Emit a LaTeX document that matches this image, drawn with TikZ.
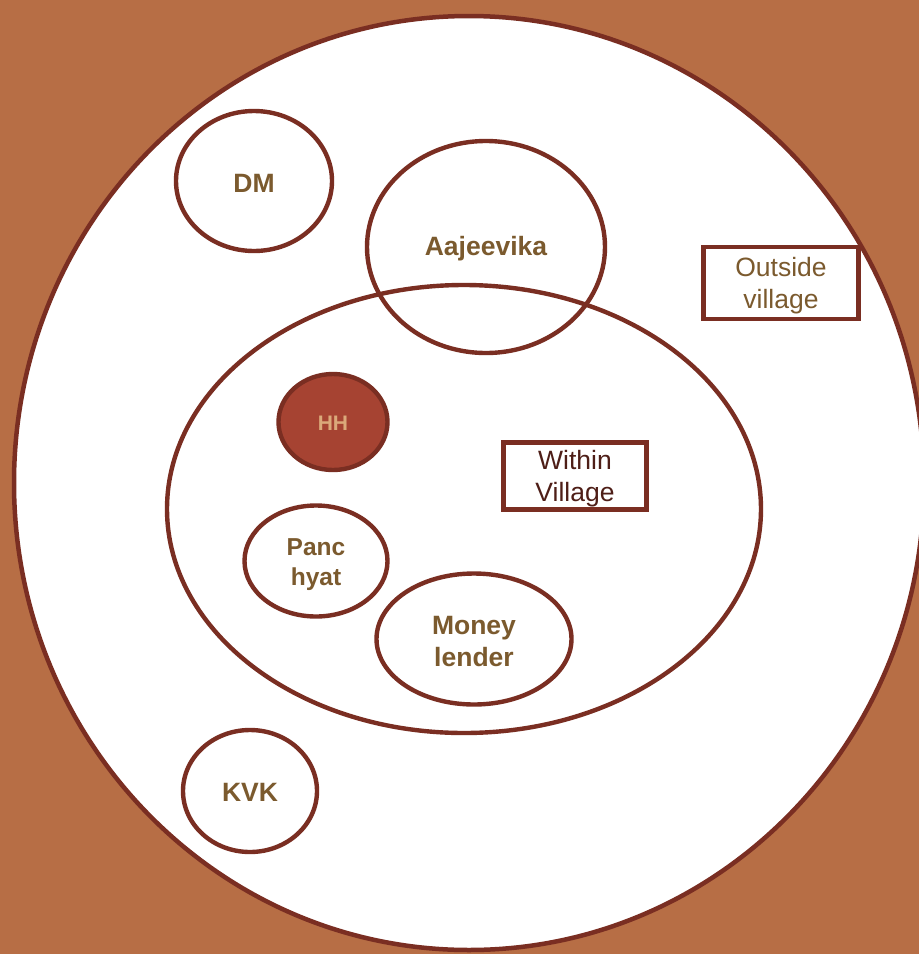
\documentclass[tikz,border=0pt]{standalone}
\usepackage{fontspec}
\setmainfont{Liberation Sans}
\usetikzlibrary{shapes.geometric}
\definecolor{bgbrown}{HTML}{B76E45}
\definecolor{edge}{HTML}{7A2E22}
\definecolor{lbl}{HTML}{7B5A2E}
\definecolor{hhfill}{HTML}{A64332}
\definecolor{hhtext}{HTML}{DBA97A}
\definecolor{wvtext}{HTML}{4E1E17}
\tikzset{
  blob/.style={ellipse, draw=edge, line width=4.4pt, inner sep=0pt},
  boldtxt/.style={inner sep=0pt, align=center, text=lbl, font=\bfseries\fontsize{26.5}{32}\selectfont},
  tag/.style={rectangle, draw=edge, fill=white, line width=4.4pt, inner sep=0pt},
  tagtxt/.style={inner sep=0pt, align=center, font=\fontsize{26.5}{32}\selectfont}
}
\begin{document}
\begin{tikzpicture}[x=1pt,y=-1pt]
\useasboundingbox (0,0) rectangle (919,954);
\fill[bgbrown] (0,0) rectangle (919,954);
\begin{scope}
\clip (0,0) rectangle (919,954);
\node[ellipse, draw=edge, fill=white, line width=4.5pt, minimum width=910pt, minimum height=934pt, inner sep=0pt] (world) at (469,483) {};
\end{scope}
% shapes
\node[blob, minimum width=594pt, minimum height=448pt] (village) at (464,509) {};
\node[blob, minimum width=238pt, minimum height=212pt] (aaj) at (486,247) {};
\node[blob, minimum width=156pt, minimum height=140pt] (dm) at (254,181) {};
\node[blob, fill=hhfill, minimum width=109pt, minimum height=96pt] (hh) at (333,422) {};
\node[blob, minimum width=143pt, minimum height=111pt] (panc) at (316,561) {};
\node[blob, minimum width=195pt, minimum height=131pt] (money) at (474,639) {};
\node[blob, minimum width=134pt, minimum height=122pt] (kvk) at (250,791) {};
\node[tag, minimum width=155pt, minimum height=72pt] (outside) at (781,283) {};
\node[tag, minimum width=143pt, minimum height=67pt] (within) at (575,476) {};
% labels
\node[boldtxt] (aajt) at ([yshift=-2pt]aaj.center) {Aajeevika};
\node[boldtxt] (dmt) at ([yshift=-2.5pt]dm.center) {DM};
\node[boldtxt, text=hhtext, font=\bfseries\fontsize{21}{24}\selectfont] (hht) at ([yshift=-1pt]hh.center) {HH};
\node[boldtxt, font=\bfseries\fontsize{24.5}{29.5}\selectfont] (panct) at ([yshift=-3.5pt]panc.center) {Panc\\hyat};
\node[boldtxt] (moneyt) at ([yshift=-2.5pt]money.center) {Money\\lender};
\node[boldtxt] (kvkt) at ([yshift=-1pt]kvk.center) {KVK};
\node[tagtxt, text=lbl] (outsidet) at ([yshift=-2.5pt]outside.center) {Outside\\village};
\node[tagtxt, text=wvtext] (withint) at ([yshift=-3pt]within.center) {Within\\Village};
\end{tikzpicture}
\end{document}
